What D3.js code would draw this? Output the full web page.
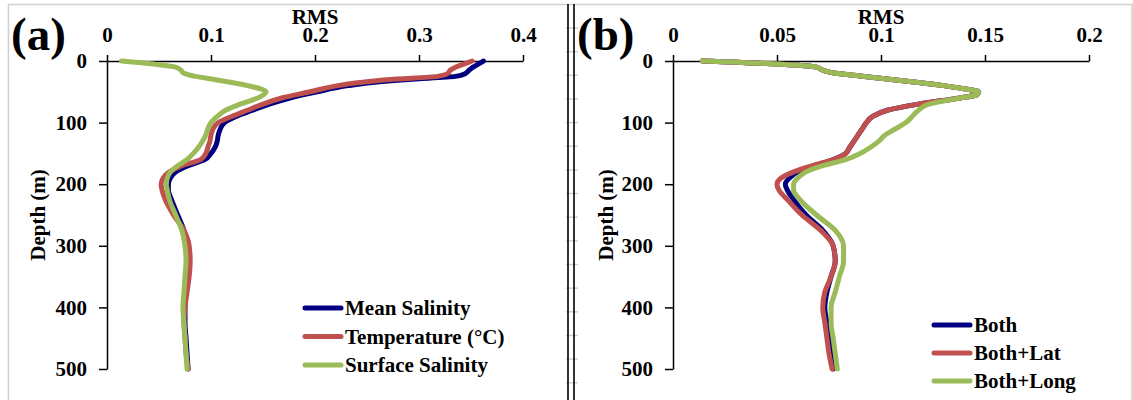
<!DOCTYPE html>
<html><head><meta charset="utf-8">
<script src="https://cdn.jsdelivr.net/npm/d3@7"></script>
<style>
body{margin:0;background:#fff}
svg{display:block}
text{font-family:"Liberation Serif","Times New Roman",serif;font-weight:bold;fill:#000}
</style>
</head><body>
<svg id="c" width="1133" height="400"></svg>
<script>
// ---------- data ----------
const depthsA = [0,5,10,15,20,25,30,35,40,50,60,70,80,90,100,110,120,130,140,150,160,170,180,190,200,210,225,250,275,300,325,350,375,400,425,450,475,500];
const meanSalinity = [0.362,0.357,0.352,0.348,0.345,0.335,0.290,0.255,0.232,0.202,0.176,0.156,0.140,0.124,0.113,0.109,0.107,0.106,0.104,0.100,0.094,0.078,0.066,0.061,0.059,0.059,0.062,0.068,0.074,0.077,0.078,0.077,0.076,0.075,0.075,0.076,0.077,0.078];
const temperature = [0.351,0.343,0.335,0.330,0.328,0.318,0.272,0.243,0.222,0.195,0.168,0.150,0.135,0.120,0.107,0.102,0.100,0.099,0.097,0.095,0.090,0.072,0.060,0.054,0.052,0.053,0.056,0.064,0.074,0.079,0.080,0.079,0.077,0.075,0.074,0.075,0.076,0.078];
const surfaceSalinity = [0.014,0.045,0.066,0.071,0.074,0.085,0.103,0.120,0.135,0.153,0.145,0.128,0.114,0.106,0.100,0.097,0.095,0.092,0.088,0.083,0.077,0.068,0.061,0.058,0.057,0.058,0.060,0.066,0.072,0.075,0.076,0.075,0.074,0.073,0.074,0.075,0.076,0.077];

const depthsB = [0,5,10,15,20,25,30,35,40,45,50,55,60,70,80,90,100,110,120,130,140,150,160,170,180,190,200,210,225,250,275,300,325,350,375,400,425,450,475,500];
const both = [0.014,0.050,0.069,0.072,0.078,0.092,0.105,0.118,0.130,0.140,0.147,0.146,0.138,0.118,0.103,0.096,0.093,0.091,0.089,0.087,0.085,0.083,0.077,0.068,0.060,0.056,0.054,0.055,0.058,0.064,0.072,0.077,0.078,0.076,0.074,0.073,0.074,0.075,0.076,0.077];
const bothLat = [0.014,0.050,0.069,0.072,0.078,0.092,0.105,0.118,0.130,0.140,0.147,0.146,0.138,0.118,0.103,0.096,0.093,0.091,0.089,0.087,0.085,0.083,0.077,0.067,0.058,0.052,0.050,0.051,0.055,0.062,0.071,0.077,0.078,0.076,0.073,0.072,0.073,0.074,0.075,0.0765];
const bothLong = [0.014,0.050,0.069,0.072,0.078,0.092,0.105,0.118,0.130,0.140,0.147,0.146,0.138,0.123,0.118,0.115,0.112,0.107,0.102,0.099,0.095,0.090,0.083,0.072,0.064,0.060,0.058,0.058,0.061,0.069,0.078,0.082,0.082,0.080,0.078,0.076,0.076,0.077,0.078,0.079];

const depthTicks = [0,100,200,300,400,500];
const rmsTicksA = [0,0.1,0.2,0.3,0.4];
const rmsTicksB = [0,0.05,0.1,0.15,0.2];
const namesA = ["Mean Salinity","Temperature (°C)","Surface Salinity"];
const namesB = ["Both","Both+Lat","Both+Long"];
const colors = ["#000080","#C0504D","#9BBB59"];
const xTitle = "RMS";
const yTitle = "Depth (m)";

// ---------- drawing ----------
const svg = d3.select("#c");
const W = 1133, H = 400;

// frame
const frame = svg.append("g");
frame.append("line").attr("x1",8).attr("x2",W).attr("y1",4.5).attr("y2",4.5).attr("stroke","#d0d0d0").attr("stroke-width",1.5);
frame.append("line").attr("x1",8.5).attr("x2",8.5).attr("y1",4).attr("y2",H).attr("stroke","#d0d0d0").attr("stroke-width",1.5);
frame.append("line").attr("x1",W-1).attr("x2",W-1).attr("y1",4).attr("y2",H).attr("stroke","#d0d0d0").attr("stroke-width",1.5);
d3.range(28, H, 23.65).forEach(yy => {
  frame.append("line").attr("x1",566).attr("x2",578).attr("y1",yy).attr("y2",yy).attr("stroke","#d0d0d0").attr("stroke-width",1.5);
});
[568,574].forEach(xx => frame.append("line").attr("x1",xx).attr("x2",xx).attr("y1",4).attr("y2",H).attr("stroke","#000").attr("stroke-width",1.6));

const y = d3.scaleLinear().domain([0,500]).range([61,369]);

function panel(o){
  const g = svg.append("g");
  const x = d3.scaleLinear().domain(o.domain).range([o.x0,o.x1]);

  // y axis
  const ya = g.append("g").attr("transform",`translate(${o.x0},0)`)
    .call(d3.axisLeft(y).tickValues(depthTicks).tickSize(8).tickSizeOuter(0).tickPadding(12).tickFormat(d3.format("d")));
  // x axis (top)
  const xa = g.append("g").attr("transform",`translate(0,${y(0)})`)
    .call(d3.axisTop(x).tickValues(o.ticks).tickSize(6).tickSizeOuter(0).tickPadding(13).tickFormat(d => String(d)));
  [ya,xa].forEach(a => {
    a.attr("font-family",null).attr("font-size",null);
    a.select(".domain").attr("stroke","#000").attr("stroke-width",1.5);
    a.selectAll(".tick line").attr("stroke","#000").attr("stroke-width",1.5);
    a.selectAll(".tick text").style("font-size","21px").style("font-family",'"Liberation Serif","Times New Roman",serif').style("font-weight","bold").attr("fill","#000");
  });

  // curves
  const line = d3.line().x(d => x(d[1])).y(d => y(d[0])).curve(d3.curveMonotoneY);
  o.series.forEach((s,i) => {
    g.append("path").datum(o.depths.map((dd,k) => [dd, s[k]]))
      .attr("d",line).attr("fill","none").attr("stroke",colors[i])
      .attr("stroke-width",5).attr("stroke-linejoin","round").attr("stroke-linecap","round");
  });

  // titles
  g.append("text").attr("x",(o.x0+o.x1)/2).attr("y",24).attr("text-anchor","middle").style("font-size","21px").text(xTitle);
  g.append("text").attr("transform",`translate(${o.yTitleX},${(y(0)+y(500))/2}) rotate(-90)`)
    .attr("text-anchor","middle").attr("dy","0.35em").style("font-size","21px").text(yTitle);
  g.append("text").attr("x",o.labelX).attr("y",50).style("font-size","47px").text(o.label);

  // legend
  o.names.forEach((n,i) => {
    const yy = o.legY + i*o.legStep;
    g.append("line").attr("x1",o.legX).attr("x2",o.legX+36).attr("y1",yy).attr("y2",yy)
      .attr("stroke",colors[i]).attr("stroke-width",5).attr("stroke-linecap","round");
    g.append("text").attr("x",o.legX+40).attr("y",yy).attr("dy","0.35em").style("font-size","21px").text(n);
  });
}

panel({domain:[0,0.4], ticks:rmsTicksA, x0:107, x1:523, depths:depthsA,
  series:[meanSalinity,temperature,surfaceSalinity], names:namesA,
  label:"(a)", labelX:11, yTitleX:38, legX:305, legY:308, legStep:28.5});
panel({domain:[0,0.2], ticks:rmsTicksB, x0:673, x1:1089, depths:depthsB,
  series:[both,bothLat,bothLong], names:namesB,
  label:"(b)", labelX:577, yTitleX:606, legX:934, legY:325, legStep:28});
</script>
</body></html>
